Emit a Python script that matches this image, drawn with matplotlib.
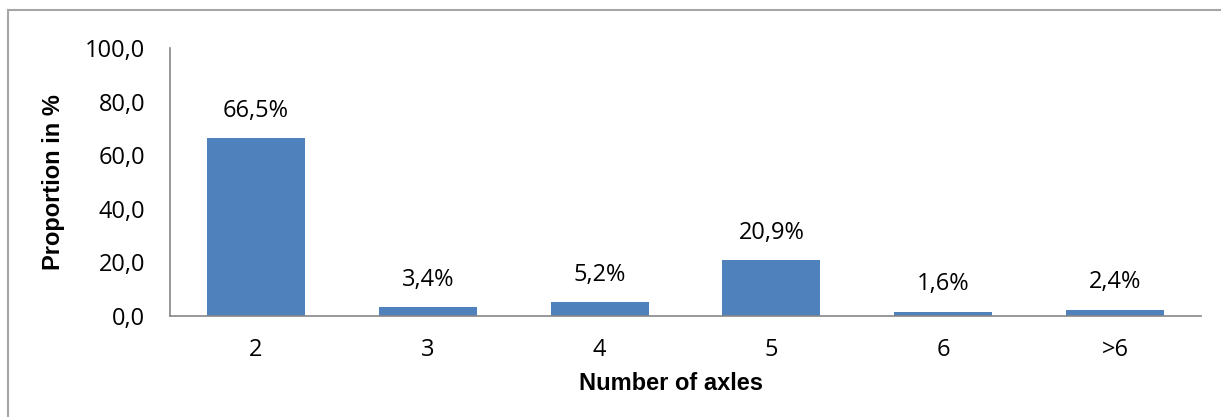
import matplotlib.pyplot as plt
from matplotlib.lines import Line2D

categories = ['2', '3', '4', '5', '6', '>6']
shares = [66.5, 3.4, 5.2, 20.9, 1.6, 2.4]
yticks = [0, 20, 40, 60, 80, 100]

plt.rcParams['font.family'] = ['Open Sans', 'DejaVu Sans']

fig = plt.figure(figsize=(12.21, 4.17), dpi=100)
ax = fig.add_axes([170 / 1221, 1 - 316 / 417, 1031 / 1221, 268 / 417])

x = range(len(categories))
ax.bar(x, shares, width=0.57, color='#4F81BD')

for i, v in enumerate(shares):
    ax.annotate(('%.1f%%' % v).replace('.', ','), (i, v), xytext=(0, 11),
                textcoords='offset points', ha='center', va='bottom', fontsize=17)

ax.set_xlim(-0.5, len(categories) - 0.5)
ax.set_ylim(0, 100)
ax.set_xticks(list(x))
ax.set_xticklabels(categories, fontsize=17)
ax.set_yticks(yticks)
ax.set_yticklabels([('%.1f' % t).replace('.', ',') for t in yticks], fontsize=17)
ax.tick_params(length=0)
ax.tick_params(axis='x', pad=16)
ax.tick_params(axis='y', pad=18)

for s in ['top', 'right']:
    ax.spines[s].set_visible(False)
for s in ['left', 'bottom']:
    ax.spines[s].set_color('#868686')
    ax.spines[s].set_linewidth(1.2)

ax.set_xlabel('Number of axles', fontsize=17, fontweight='bold', family='Liberation Sans', va='center')
ax.xaxis.set_label_coords(501 / 1031, -67 / 268)
ax.set_ylabel('Proportion in %', fontsize=17, fontweight='bold', family='Liberation Sans', labelpad=14)

# frame of the chart area (top and left edges)
fig.add_artist(Line2D([8 / 1221, 1], [1 - 10 / 417, 1 - 10 / 417], transform=fig.transFigure,
                      color='#A6A6A6', lw=1.5))
fig.add_artist(Line2D([8 / 1221, 8 / 1221], [0, 1 - 10 / 417], transform=fig.transFigure,
                      color='#A6A6A6', lw=1.5))

fig.savefig('out.png', dpi=100)
